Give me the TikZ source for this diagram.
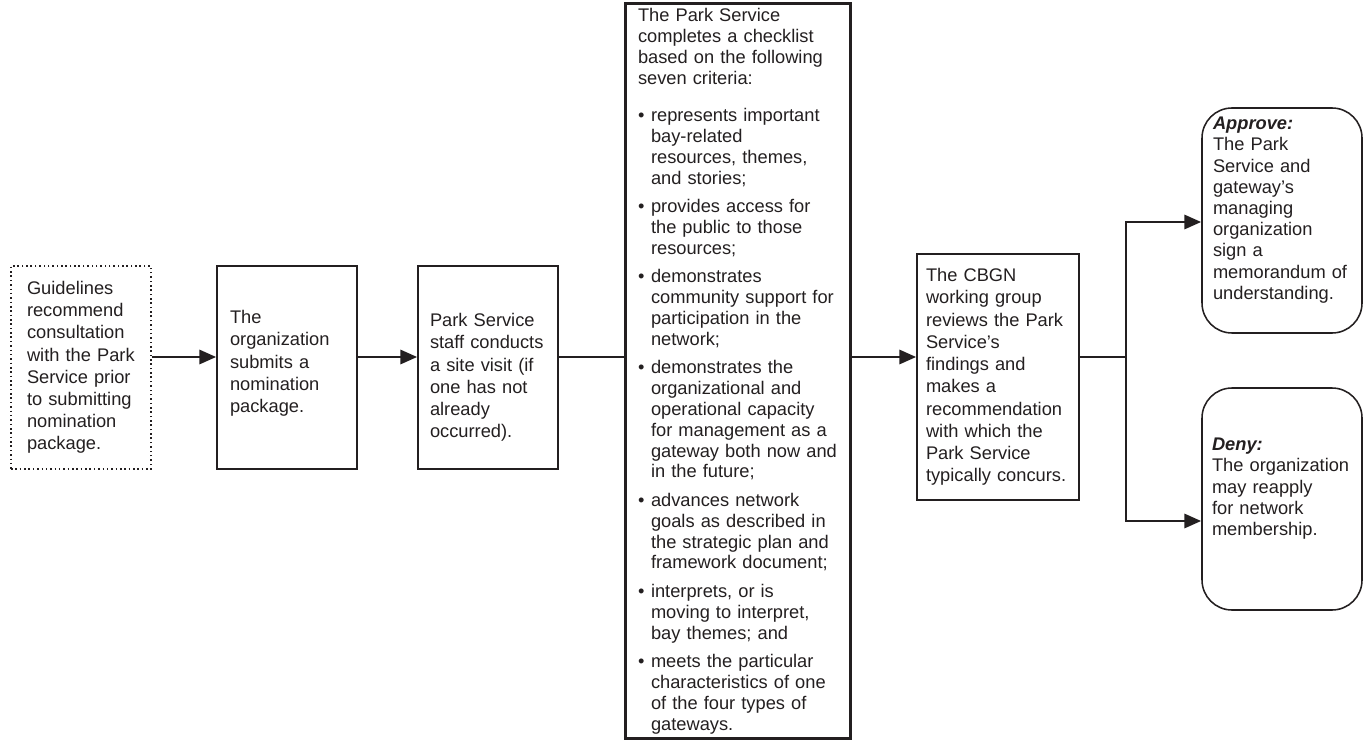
\documentclass[tikz,border=0pt]{standalone}
\usepackage{fontspec}
\setmainfont{Liberation Sans}
\usetikzlibrary{arrows.meta,positioning}
\definecolor{ink}{HTML}{231F20}
\newcommand{\critbullet}{\makebox[0.325cm][l]{\textbullet}}
\newcommand{\critindent}{\hspace*{0.325cm}}

\begin{document}
\begin{tikzpicture}[
  every node/.style={font=\fontsize{13}{15.8}\selectfont, text=ink},
  stepbox/.style={draw=ink, line width=1.1pt, align=left, inner xsep=0pt},
  outcome/.style={stepbox, rounded corners=0.75cm, minimum width=4.0cm, font=\fontsize{13}{15.1}\selectfont},
  flow/.style={draw=ink, line width=2.1pt, -{Triangle[length=0.42cm,width=0.35cm]}},
  link/.style={draw=ink, line width=2.1pt}]
  \useasboundingbox (0,0) rectangle (34.1,18.75);
  \node[stepbox, dotted, line width=0.8pt, text width=2.7cm, minimum width=3.5cm, minimum height=5.075cm]
    (guide) at (2.025,9.5625) {Guidelines\\ recommend\\ consultation\\ with the Park\\ Service prior\\ to submitting\\ nomination\\ package.};
  \node[stepbox, text width=2.85cm, minimum width=3.5cm, minimum height=5.075cm, text depth=2.52cm]
    (submit) at (7.175,9.5625) {The\\ organization\\ submits a\\ nomination\\ package.};
  \node[stepbox, text width=2.9cm, minimum width=3.5cm, minimum height=5.075cm, text height=0.835cm]
    (visit) at (12.2,9.5625) {Park Service\\ staff conducts\\ a site visit (if\\ one has not\\ already\\ occurred).};
  \node[stepbox, line width=1.9pt, text width=5.0cm, minimum width=5.625cm, minimum height=18.35cm,
    font=\fontsize{13}{14.9}\selectfont]
    (checklist) at (18.45,9.475) {The Park Service\\ completes a checklist\\ based on the following\\ seven criteria:\\[0.4cm]
    \critbullet represents important\\ \critindent bay-related\\ \critindent resources, themes,\\ \critindent and stories;\\[0.18cm]
    \critbullet provides access for\\ \critindent the public to those\\ \critindent resources;\\[0.18cm]
    \critbullet demonstrates\\ \critindent community support for\\ \critindent participation in the\\ \critindent network;\\[0.18cm]
    \critbullet demonstrates the\\ \critindent organizational and\\ \critindent operational capacity\\ \critindent for management as a\\ \critindent gateway both now and\\ \critindent in the future;\\[0.18cm]
    \critbullet advances network\\ \critindent goals as described in\\ \critindent the strategic plan and\\ \critindent framework document;\\[0.18cm]
    \critbullet interprets, or is\\ \critindent moving to interpret,\\ \critindent bay themes; and\\[0.18cm]
    \critbullet meets the particular\\ \critindent characteristics of one\\ \critindent of the four types of\\ \critindent gateways.};
  \node[stepbox, text width=3.6cm, minimum width=4.05cm, minimum height=6.15cm]
    (review) at (24.95,9.325) {The CBGN\\ working group\\ reviews the Park\\ Service’s\\ findings and\\ makes a\\ recommendation\\ with which the\\ Park Service\\ typically concurs.};
  \node[outcome, text width=3.45cm, minimum height=5.625cm, text depth=4.86cm]
    (approve) at (32.05,13.2375) {\textbf{\textit{Approve:}}\\ The Park\\ Service and\\ gateway’s\\ managing\\ organization\\ sign a\\ memorandum of\\ understanding.};
  \node[outcome, text width=3.5cm, minimum height=5.55cm, text depth=2.73cm]
    (deny) at (32.05,6.275) {\textbf{\textit{Deny:}}\\ The organization\\ may reapply\\ for network\\ membership.};
  % connectors
  \coordinate (row) at (0,9.825);
  \coordinate (split) at (28.15,9.825);
  \coordinate (yes) at (0,13.2);
  \coordinate (no) at (0,5.725);
  \draw[flow] (guide.east |- row) -- (submit.west |- row);
  \draw[flow] (submit.east |- row) -- (visit.west |- row);
  \draw[link] (visit.east |- row) -- (checklist.west |- row);
  \draw[flow] (checklist.east |- row) -- (review.west |- row);
  \draw[link] (review.east |- row) -- (split);
  \draw[flow] (split) |- (approve.west |- yes);
  \draw[flow] (split) |- (deny.west |- no);
\end{tikzpicture}
\end{document}
